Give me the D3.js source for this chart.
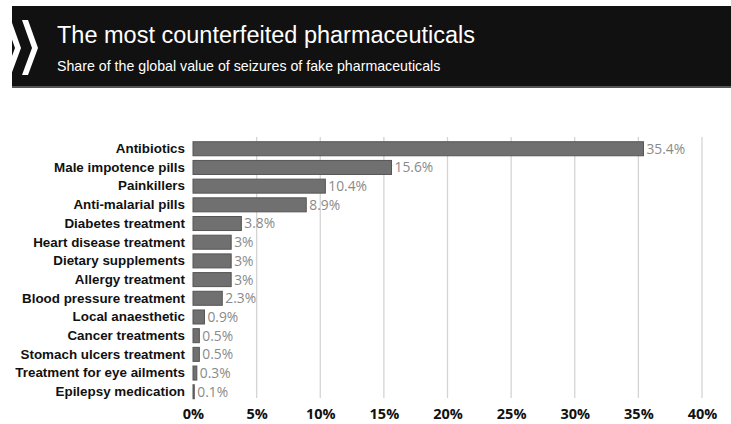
<!DOCTYPE html>
<html><head><meta charset="utf-8">
<script src="https://cdn.jsdelivr.net/npm/d3@7"></script>
<style>
html,body{margin:0;padding:0;background:#fff;}
svg{display:block;}
</style></head>
<body>
<script>
const categories = ["Antibiotics","Male impotence pills","Painkillers","Anti-malarial pills","Diabetes treatment","Heart disease treatment","Dietary supplements","Allergy treatment","Blood pressure treatment","Local anaesthetic","Cancer treatments","Stomach ulcers treatment","Treatment for eye ailments","Epilepsy medication"];
const values = [35.4,15.6,10.4,8.9,3.8,3,3,3,2.3,0.9,0.5,0.5,0.3,0.1];
const valueLabels = ["35.4%","15.6%","10.4%","8.9%","3.8%","3%","3%","3%","2.3%","0.9%","0.5%","0.5%","0.3%","0.1%"];
const ticks = [0,5,10,15,20,25,30,35,40];
const title = "The most counterfeited pharmaceuticals";
const subtitle = "Share of the global value of seizures of fake pharmaceuticals";

const W = 731, H = 424;
const svg = d3.select("body").append("svg").attr("width", W).attr("height", H);

// header
svg.append("rect").attr("x", 12).attr("y", 6).attr("width", W - 12).attr("height", 82).attr("fill", "#111");
svg.append("rect").attr("x", 12).attr("y", 86).attr("width", W - 12).attr("height", 2).attr("fill", "#555");
svg.append("defs").append("clipPath").attr("id", "hclip").append("rect").attr("x", 12).attr("y", 6).attr("width", W).attr("height", 82);
const hdr = svg.append("g");
const chev = (x0) => `M${x0},20 L${x0+6},20 L${x0+16},48 L${x0+6},75 L${x0},75 L${x0+10},48 Z`;
hdr.append("path").attr("d", chev(5)).attr("fill", "#fff").attr("clip-path", "url(#hclip)");
hdr.append("path").attr("d", chev(22)).attr("fill", "#fff");
hdr.append("text").attr("x", 57).attr("y", 43).attr("fill", "#fff")
  .attr("font-family", "Liberation Sans, Arial, sans-serif").attr("font-size", 23.5).text(title);
hdr.append("text").attr("x", 57).attr("y", 71).attr("fill", "#fff")
  .attr("font-family", "Liberation Sans, Arial, sans-serif").attr("font-size", 14.2).text(subtitle);

// scales
const x = d3.scaleLinear().domain([0, 40]).range([193, 702]);
const y = d3.scaleBand().domain(categories).range([139.5, 401]).paddingInner(0.25).paddingOuter(0.12);

// grid
svg.append("g").selectAll("line").data(ticks.slice(1)).join("line")
  .attr("x1", d => x(d)).attr("x2", d => x(d)).attr("y1", 137).attr("y2", 398)
  .attr("stroke", "#d4d4d4").attr("stroke-width", 1.3);

// x axis labels
const xAxis = d3.axisBottom(x).tickValues(ticks).tickFormat(d => d + "%").tickSize(0);
const gx = svg.append("g").attr("transform", "translate(0,406)").call(xAxis);
gx.select(".domain").remove();
gx.selectAll("text").attr("font-family", "Open Sans, sans-serif").attr("font-weight", "bold")
  .attr("font-size", 14.5).attr("fill", "#111");

// y axis labels
const yAxis = d3.axisLeft(y).tickSize(0).tickPadding(0);
const gy = svg.append("g").attr("transform", "translate(185,0)").call(yAxis);
gy.select(".domain").remove();
gy.selectAll("text").attr("font-family", "Liberation Sans, Arial, sans-serif").attr("font-weight", "bold")
  .attr("font-size", 13.4).attr("fill", "#111");

// bars
const data = categories.map((c, i) => ({c, v: values[i], l: valueLabels[i]}));
svg.append("g").selectAll("rect").data(data).join("rect")
  .attr("x", x(0)).attr("y", d => y(d.c)).attr("width", d => Math.max(1, x(d.v) - x(0)))
  .attr("height", y.bandwidth()).attr("fill", "#707070").attr("stroke", "#555").attr("stroke-width", 1);

svg.append("g").selectAll("text").data(data).join("text")
  .attr("x", d => x(d.v) + 3).attr("y", d => y(d.c) + y.bandwidth() / 2).attr("dy", "0.36em")
  .attr("font-family", "Open Sans, sans-serif").attr("font-size", 13.8).attr("fill", "#8a8a8a")
  .text(d => d.l);
</script>
</body></html>
